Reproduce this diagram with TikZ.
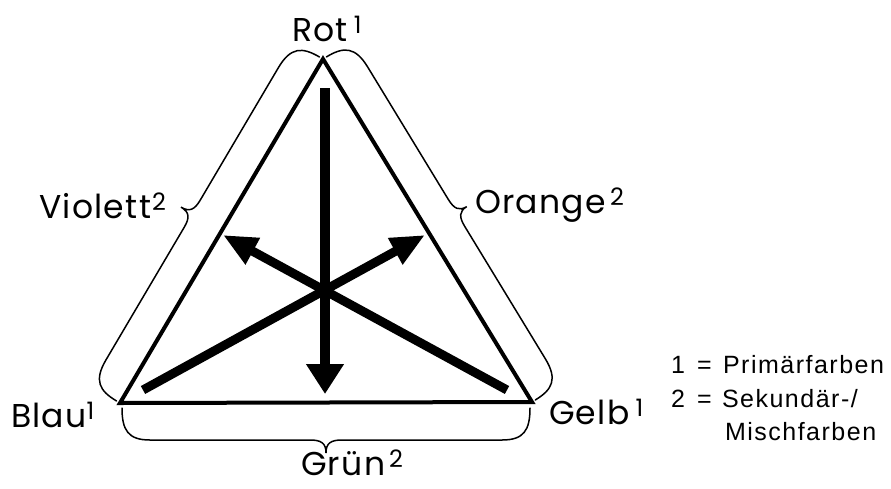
\documentclass[tikz,border=0pt]{standalone}
\usepackage{fontspec}
\setmainfont{Poppins}[LetterSpace=4]
\newfontfamily\legendfont[LetterSpace=6]{Liberation Sans}
\usetikzlibrary{arrows.meta}
\newcommand\supr[1]{\raisebox{8pt}{\fontsize{24}{24}\selectfont #1}}
\begin{document}
\begin{tikzpicture}[x=1pt,y=-1pt,
  lbl/.style={inner sep=0pt, outer sep=0pt, anchor=base west, font=\fontsize{33}{36}\selectfont},
  leg/.style={inner sep=0pt, outer sep=0pt, anchor=base west, font=\legendfont\fontsize{25}{30}\selectfont},
  edge/.style={line width=4pt, line join=miter},
  bracestyle/.style={line width=1.5pt, line cap=round},
  bigarrow/.style={line width=10pt, -{Triangle[length=30pt,width=36pt]}},
  diagarrow/.style={line width=9pt, -{Triangle[length=34pt,width=28pt]}}]
\useasboundingbox (0,0) rectangle (891,488);
\coordinate (R) at (323,59);
\coordinate (B) at (120,403);
\coordinate (G) at (532,402);
% triangle
\draw[edge] (R) -- (B) -- (G) -- cycle;
% braces
\begin{scope}[x={(0.508pt,0.861pt)}, y={(-0.861pt,0.508pt)}, shift={(B)}]
\draw[bracestyle] (0,4) .. controls (0,24) and (6,34) .. (30,34) -- (184,34)
  .. controls (195,34) and (199.75,37) .. (199.75,47)
  .. controls (199.75,37) and (204.5,34) .. (215.5,34) -- (369.5,34)
  .. controls (393.5,34) and (399.5,24) .. (399.5,4);
\end{scope}
\begin{scope}[x={(0.520pt,-0.854pt)}, y={(0.854pt,0.520pt)}, shift={(R)}]
\draw[bracestyle] (0,4) .. controls (0,24) and (6,34) .. (30,34) -- (185,34)
  .. controls (196,34) and (200.85,37) .. (200.85,46)
  .. controls (200.85,37) and (205.7,34) .. (216.7,34) -- (371.7,34)
  .. controls (395.7,34) and (401.7,24) .. (401.7,4);
\end{scope}
\begin{scope}[x={(1pt,0pt)}, y={(0pt,-1pt)}, shift={(B)}]
\draw[bracestyle] (2,5) .. controls (2,27) and (8,37) .. (30,37) -- (190,37)
  .. controls (201,37) and (206,40) .. (206,50)
  .. controls (206,40) and (211,37) .. (222,37) -- (382,37)
  .. controls (404,37) and (410,27) .. (410,5);
\end{scope}
% arrows
\coordinate (vt) at (325,88);
\coordinate (vh) at (325,394);
\coordinate (d1t) at (507,390);
\coordinate (d1h) at (223,235);
\coordinate (d2t) at (143,390);
\coordinate (d2h) at (425,235);
\draw[bigarrow] (vt) -- (vh);
\draw[diagarrow] (d1t) -- (d1h);
\draw[diagarrow] (d2t) -- (d2h);
% labels
\node[lbl] (rot) at (292,41) {Rot\hspace{6pt}\supr{1}};
\node[lbl] (violett) at (39,218) {Violett\hspace{1pt}\supr{2}};
\node[lbl] (orange) at (475,213) {Orange\hspace{4pt}\supr{2}};
\node[lbl] (blau) at (11,427) {Blau\supr{1}};
\node[lbl] (gelb) at (549,424) {Gelb\hspace{6pt}\supr{1}};
\node[lbl] (gruen) at (301,475) {Grün\hspace{4pt}\supr{2}};
% legend
\node[leg] (n1) at (671,373) {1};
\node[leg] (e1) at (697,373) {=};
\node[leg] (t1) at (723,373) {Primärfarben};
\node[leg] (n2) at (671,407) {2};
\node[leg] (e2) at (697,407) {=};
\node[leg] (t2) at (722,407) {Sekundär-/};
\node[leg] (t3) at (725,440) {Mischfarben};
\end{tikzpicture}
\end{document}
